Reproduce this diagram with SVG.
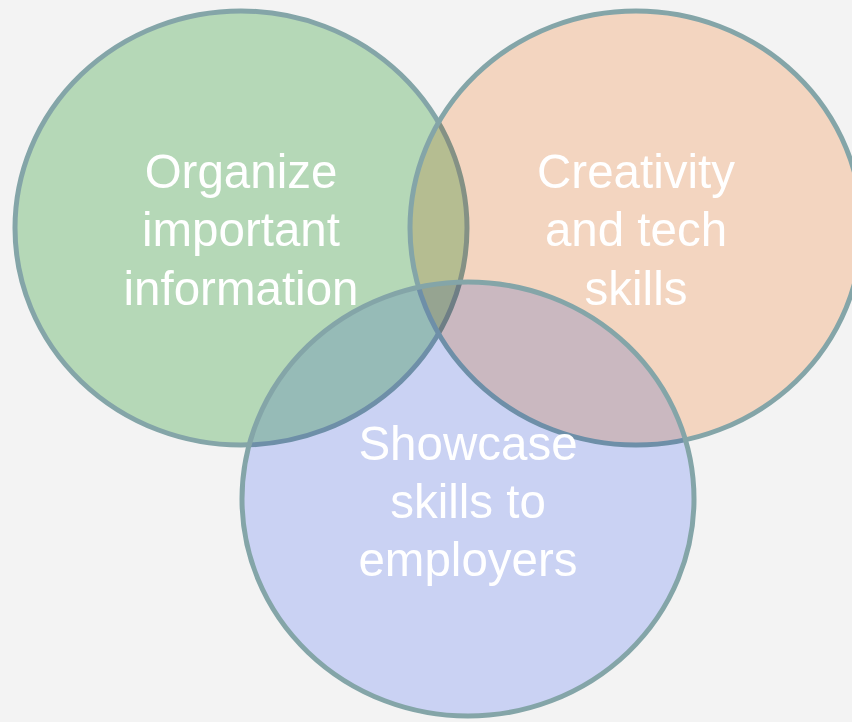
<svg xmlns="http://www.w3.org/2000/svg" width="852" height="722" viewBox="0 0 852 722">
<style>
.fill{mix-blend-mode:multiply;stroke:none}
.ring{fill:none;stroke:#84a5a8;stroke-width:5}
.lbl{font-family:"Liberation Sans",Arial,sans-serif;font-size:47.5px;fill:#ffffff;text-anchor:middle}
</style>
<rect x="0" y="0" width="852" height="722" fill="#f3f3f3"/>
<g id="nodes">
<g id="organize">
<ellipse class="fill" cx="241" cy="228" rx="226" ry="217" fill="#bee3c0"/>
<ellipse class="ring" cx="241" cy="228" rx="226" ry="217"/>
</g>
<g id="creativity">
<ellipse class="fill" cx="636" cy="228" rx="226" ry="217" fill="#ffe0ca"/>
<ellipse class="ring" cx="636" cy="228" rx="226" ry="217"/>
</g>
<g id="showcase">
<ellipse class="fill" cx="468" cy="499" rx="226" ry="217" fill="#d4ddff"/>
<ellipse class="ring" cx="468" cy="499" rx="226" ry="217"/>
</g>
<g id="labels">
<text class="lbl" x="241" y="188">Organize</text>
<text class="lbl" x="241" y="246">important</text>
<text class="lbl" x="241" y="305">information</text>
<text class="lbl" x="636" y="188">Creativity</text>
<text class="lbl" x="636" y="246">and tech</text>
<text class="lbl" x="636" y="305">skills</text>
<text class="lbl" x="468" y="460">Showcase</text>
<text class="lbl" x="468" y="518">skills to</text>
<text class="lbl" x="468" y="576">employers</text>
</g>
</g>
<g id="connectors"/>
</svg>
